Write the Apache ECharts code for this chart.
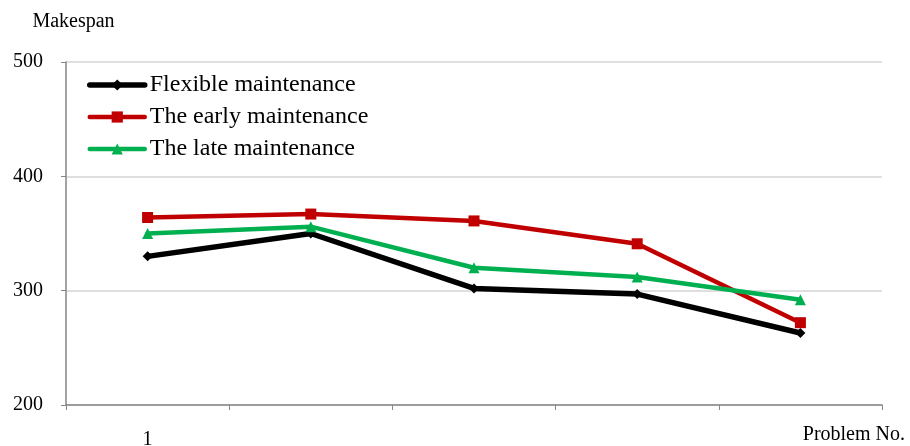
<!DOCTYPE html>
<html>
<head>
<meta charset="utf-8">
<script src="https://cdn.jsdelivr.net/npm/echarts@6/dist/echarts.min.js"></script>
<style>
  html, body { margin: 0; padding: 0; background: #ffffff; }
  #chart { width: 910px; height: 446px; }
</style>
</head>
<body>
<div id="chart"></div>
<script>
// Problem instances along the x axis; only the first one carries a label
const problems = ['1', '2', '3', '4', '5'];
const problemLabels = ['1', '', '', '', ''];

// Makespan for each maintenance strategy
const flexible = [330, 350, 302, 297, 263];
const early = [364, 367, 361, 341, 272];
const late = [350, 356, 320, 312, 292];

// Value axis ticks
const yMin = 200;
const yMax = 500;
const yStep = 100;

const serif = "'Liberation Serif', 'Times New Roman', serif";
const axisGray = '#868686';

const chart = echarts.init(document.getElementById('chart'));

function lineSeries(name, data, color, symbol, size, width) {
  return {
    name: name,
    type: 'line',
    data: data,
    symbol: symbol,
    symbolSize: size,
    showAllSymbol: true,
    itemStyle: { color: color },
    lineStyle: { color: color, width: width, cap: 'round', join: 'round' },
    emphasis: { disabled: true },
    animation: false
  };
}

chart.setOption({
  animation: false,
  backgroundColor: '#ffffff',
  textStyle: { fontFamily: serif, color: '#000000' },
  grid: { left: 66, right: 28, top: 62, bottom: 41, containLabel: false, outerBoundsMode: 'none' },
  legend: {
    left: 82,
    top: 68,
    padding: 5,
    orient: 'vertical',
    itemWidth: 55,
    itemHeight: 14,
    itemGap: 8,
    lineStyle: { width: 'inherit' },
    textStyle: { fontFamily: serif, fontSize: 24, color: '#000000' },
    data: ['Flexible maintenance', 'The early maintenance', 'The late maintenance']
  },
  xAxis: {
    type: 'category',
    data: problems,
    boundaryGap: true,
    name: 'Problem No.',
    nameLocation: 'end',
    nameGap: 23,
    nameTextStyle: {
      fontFamily: serif, fontSize: 20, color: '#000000',
      align: 'right', verticalAlign: 'top', padding: [20, 0, 0, 0]
    },
    axisLine: { lineStyle: { color: axisGray, width: 1.5 } },
    axisTick: { show: true, alignWithLabel: false, length: 5, lineStyle: { color: axisGray } },
    axisLabel: {
      margin: 25,
      fontFamily: serif, fontSize: 20, color: '#000000',
      formatter: function (v, i) { return problemLabels[i]; }
    },
    splitLine: { show: false }
  },
  yAxis: {
    type: 'value',
    min: yMin,
    max: yMax,
    interval: yStep,
    name: 'Makespan',
    nameLocation: 'end',
    nameGap: 30,
    nameTextStyle: { fontFamily: serif, fontSize: 20, color: '#000000', padding: [0, 0, 0, 15] },
    axisLine: { show: true, lineStyle: { color: axisGray, width: 1.5 } },
    axisTick: { show: true, length: 5, inside: false, lineStyle: { color: axisGray } },
    axisLabel: { margin: 23, fontFamily: serif, fontSize: 20, color: '#000000' },
    splitLine: { show: true, lineStyle: { color: '#d4d4d4', width: 1.5 } }
  },
  series: [
    lineSeries('Flexible maintenance', flexible, '#000000', 'diamond', 10, 5.5),
    lineSeries('The early maintenance', early, '#c00000', 'rect', 11, 4.5),
    lineSeries('The late maintenance', late, '#00b050', 'triangle', 11, 4.5)
  ]
});
</script>
</body>
</html>
